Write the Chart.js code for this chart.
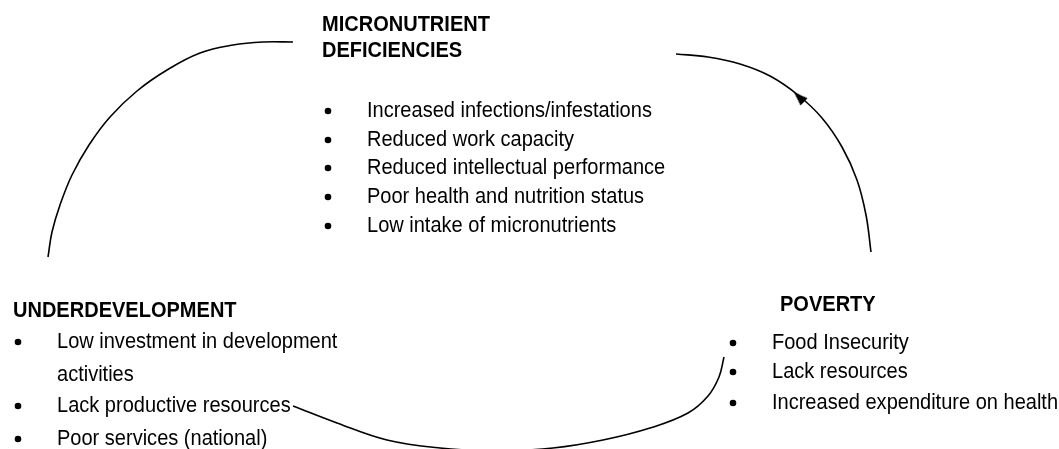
<!DOCTYPE html>
<html>
<head>
<meta charset="utf-8">
<script src="https://cdn.jsdelivr.net/npm/chart.js@4.4.1/dist/chart.umd.min.js"></script>
<style>
  html, body { margin: 0; padding: 0; background: #ffffff; }
  #wrap { width: 1059px; height: 449px; }
</style>
</head>
<body>
<div id="wrap"><canvas id="c" width="1059" height="449"></canvas></div>
<script>
// ---- Arc paths (diagram units = pixels) ----
const arcLeftX  = [293, 263, 233, 200, 167, 137, 110, 89, 72, 60, 52, 48];
const arcLeftY  = [42, 42, 45, 53, 70, 91, 117, 145, 175, 205, 232, 257];
const arcRightX = [676, 708, 740, 770, 798, 822, 842, 857, 866, 871];
const arcRightY = [54, 57, 64, 76, 95, 118, 147, 180, 215, 252];
const arcBottomX = [293, 337, 387, 440, 497, 553, 603, 650, 688, 708, 719, 724];
const arcBottomY = [406, 423, 440, 448, 451, 448, 440, 428, 413, 396, 377, 357];
const arrowX = [799];
const arrowY = [97];

// ---- Text blocks ----
const titleTop = ["MICRONUTRIENT", "DEFICIENCIES"];
const itemsTop = ["Increased infections/infestations", "Reduced work capacity",
  "Reduced intellectual performance", "Poor health and nutrition status", "Low intake of micronutrients"];
const titleLeft = ["UNDERDEVELOPMENT"];
const itemsLeft = ["Low investment in development", "activities", "Lack productive resources", "Poor services (national)"];
const bulletLeft = [true, false, true, true];
const titleRight = ["POVERTY"];
const itemsRight = ["Food Insecurity", "Lack resources", "Increased expenditure on health"];

// ---- Layout (positions of text blocks, centre of line) ----
const layout = {
  top:   { titleX: 322, titleY: [25, 51], bulletX: 328, textX: 367, lineY: [111, 140, 168, 197, 226] },
  left:  { titleX: 13,  titleY: [311],    bulletX: 18,  textX: 57,  lineY: [342, 375, 406, 439] },
  right: { titleX: 780, titleY: [305],    bulletX: 733, textX: 772, lineY: [343, 372, 403] }
};
const FONT_PX = 22, FONT_SX = 0.91;

const toPts = (xs, ys) => xs.map((x, i) => ({ x: x, y: ys[i] }));

const bulletPts = [];
layout.top.lineY.forEach(y => bulletPts.push({ x: layout.top.bulletX, y: y }));
layout.left.lineY.forEach((y, i) => { if (bulletLeft[i]) bulletPts.push({ x: layout.left.bulletX, y: y }); });
layout.right.lineY.forEach(y => bulletPts.push({ x: layout.right.bulletX, y: y }));

// narrow arrow-head image used as point style
const arrowImg = document.createElement('canvas');
arrowImg.width = 16; arrowImg.height = 16;
(function () {
  const g = arrowImg.getContext('2d');
  g.fillStyle = '#000';
  g.beginPath(); g.moveTo(8, 1); g.lineTo(13, 15); g.lineTo(3, 15); g.closePath(); g.fill();
})();

const lineStyle = { showLine: true, borderColor: '#000', borderWidth: 1.6, tension: 0.4, pointRadius: 0, fill: false };

const textPlugin = {
  id: 'diagramText',
  afterDatasetsDraw(chart) {
    const ctx = chart.ctx, xs = chart.scales.x, ys = chart.scales.y;
    const put = (t, x, y, bold) => {
      ctx.save();
      ctx.translate(xs.getPixelForValue(x), ys.getPixelForValue(y));
      ctx.scale(FONT_SX, 1);
      ctx.font = (bold ? 'bold ' : '') + FONT_PX + 'px "Liberation Sans", Arial, sans-serif';
      ctx.fillStyle = '#000';
      ctx.textBaseline = 'middle';
      ctx.textAlign = 'left';
      ctx.fillText(t, 0, 0);
      ctx.restore();
    };
    titleTop.forEach((t, i) => put(t, layout.top.titleX, layout.top.titleY[i], true));
    itemsTop.forEach((t, i) => put(t, layout.top.textX, layout.top.lineY[i], false));
    titleLeft.forEach((t, i) => put(t, layout.left.titleX, layout.left.titleY[i], true));
    itemsLeft.forEach((t, i) => put(t, layout.left.textX, layout.left.lineY[i], false));
    titleRight.forEach((t, i) => put(t, layout.right.titleX, layout.right.titleY[i], true));
    itemsRight.forEach((t, i) => put(t, layout.right.textX, layout.right.lineY[i], false));
  }
};

const bgPlugin = {
  id: 'bg',
  beforeDraw(chart) {
    const ctx = chart.ctx;
    ctx.save(); ctx.fillStyle = '#fff'; ctx.fillRect(0, 0, chart.width, chart.height); ctx.restore();
  }
};

new Chart(document.getElementById('c'), {
  type: 'scatter',
  data: {
    datasets: [
      Object.assign({ data: toPts(arcLeftX, arcLeftY) }, lineStyle),
      Object.assign({ data: toPts(arcRightX, arcRightY) }, lineStyle),
      Object.assign({ data: toPts(arcBottomX, arcBottomY) }, lineStyle),
      { data: toPts(arrowX, arrowY), pointStyle: arrowImg, pointRadius: 8, rotation: -46, showLine: false },
      { data: bulletPts, pointStyle: 'circle', pointRadius: 3.3, backgroundColor: '#000', borderColor: '#000', borderWidth: 0, showLine: false }
    ]
  },
  options: {
    responsive: false,
    animation: false,
    layout: { padding: 0, autoPadding: false },
    plugins: { legend: { display: false }, tooltip: { enabled: false } },
    scales: {
      x: { type: 'linear', min: 0, max: 1059, display: false },
      y: { type: 'linear', min: 0, max: 449, reverse: true, display: false }
    },
    clip: false
  },
  plugins: [bgPlugin, textPlugin]
});
</script>
</body>
</html>
